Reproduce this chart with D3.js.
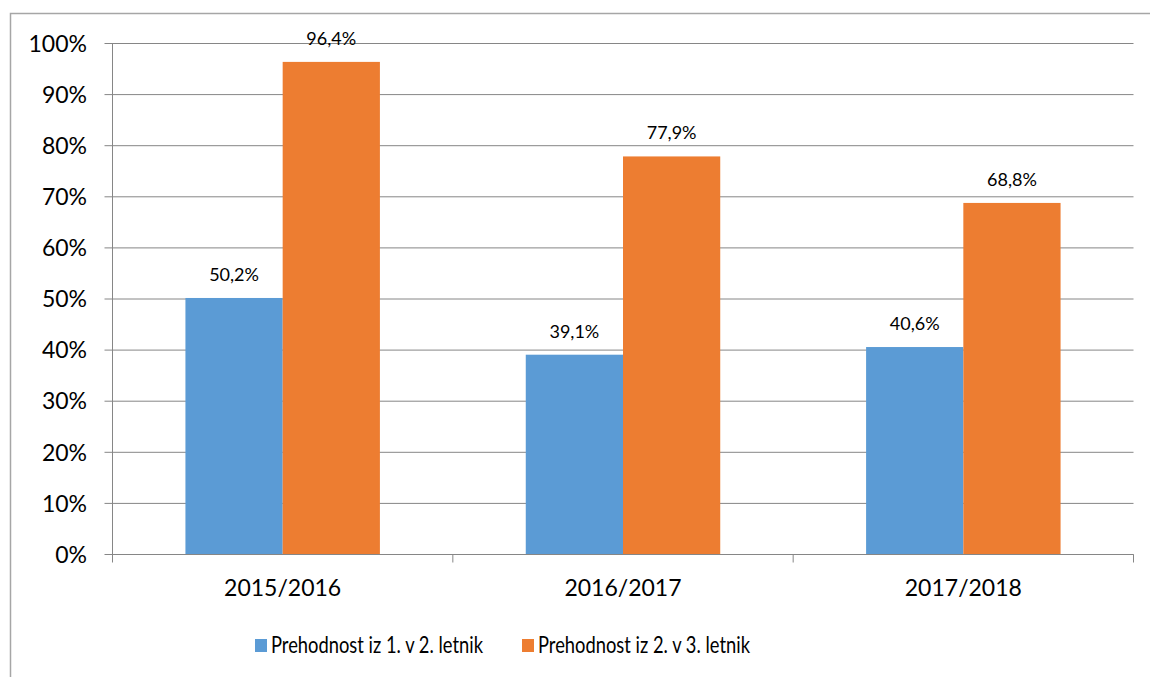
<!DOCTYPE html>
<html>
<head>
<meta charset="utf-8">
<title>prehodnost</title>
<style>
  body { margin: 0; background: #fff; }
  text { font-family: Lato, "Open Sans", sans-serif; fill: #000; }
</style>
</head>
<body>
<script src="https://cdn.jsdelivr.net/npm/d3@7"></script>
<script>

var years = ['2015/2016', '2016/2017', '2017/2018'],
    seriesNames = ['Prehodnost iz 1. v 2. letnik', 'Prehodnost iz 2. v 3. letnik'],
    first = [50.2, 39.1, 40.6],
    second = [96.4, 77.9, 68.8],
    yTicks = [0, 10, 20, 30, 40, 50, 60, 70, 80, 90, 100],
    colors = ['#5b9bd5', '#ed7d31']

var width = 1150,
    height = 677,
    plotLeft = 112.5,
    plotRight = 1133.5,
    plotTop = 43.5,
    plotBottom = 554.5

var svg = d3.select('body').append('svg')
    .attr('width', width)
    .attr('height', height)

// outer chart frame (runs off the right and bottom edge)
svg.append('rect')
    .attr('x', 10.5).attr('y', 13.5)
    .attr('width', 1200).attr('height', 700)
    .attr('fill', 'none')
    .attr('stroke', '#a6a6a6')
    .attr('stroke-width', 1.5)

var x = d3.scaleBand().domain(years).range([plotLeft, plotRight])
var x1 = d3.scaleBand().domain([0, 1]).range([0, x.bandwidth()]).paddingOuter(0.75).paddingInner(0)
var y = d3.scaleLinear().domain([0, 100]).range([plotBottom, plotTop])

// gridlines with left tick stubs
svg.append('g').selectAll('line').data(yTicks).enter().append('line')
    .attr('x1', plotLeft - 8).attr('x2', plotRight)
    .attr('y1', function(d){ return y(d) }).attr('y2', function(d){ return y(d) })
    .attr('stroke', '#868686').attr('stroke-width', 1)

svg.append('g').selectAll('text').data(yTicks).enter().append('text')
    .attr('x', 87).attr('y', function(d){ return y(d) })
    .attr('dy', '0.36em')
    .attr('text-anchor', 'end')
    .style('font-size', '23px')
    .text(function(d){ return d + '%' })

// bars
var rows = years.map(function(yr, i){ return [first[i], second[i]] })
var groups = svg.append('g').selectAll('g').data(rows).enter().append('g')
    .attr('transform', function(d, i){ return 'translate(' + x(years[i]) + ',0)' })

groups.selectAll('rect').data(function(d){ return d }).enter().append('rect')
    .attr('x', function(d, j){ return x1(j) })
    .attr('width', x1.bandwidth())
    .attr('y', function(d){ return y(d) })
    .attr('height', function(d){ return plotBottom - y(d) })
    .attr('fill', function(d, j){ return colors[j] })

groups.selectAll('text').data(function(d){ return d }).enter().append('text')
    .attr('x', function(d, j){ return x1(j) + x1.bandwidth() / 2 })
    .attr('y', function(d){ return y(d) - 17 })
    .attr('text-anchor', 'middle')
    .style('font-size', '18px')
    .text(function(d){ return d.toFixed(1).replace('.', ',') + '%' })

// axis lines and category ticks
svg.append('line')
    .attr('x1', plotLeft).attr('x2', plotLeft).attr('y1', plotTop).attr('y2', plotBottom + 8)
    .attr('stroke', '#868686')
svg.append('line')
    .attr('x1', plotLeft).attr('x2', plotRight).attr('y1', plotBottom).attr('y2', plotBottom)
    .attr('stroke', '#868686')
svg.append('g').selectAll('line').data(years).enter().append('line')
    .attr('x1', function(d){ return x(d) + x.bandwidth() })
    .attr('x2', function(d){ return x(d) + x.bandwidth() })
    .attr('y1', plotBottom).attr('y2', plotBottom + 8)
    .attr('stroke', '#868686')

svg.append('g').selectAll('text').data(years).enter().append('text')
    .attr('x', function(d){ return x(d) + x.bandwidth() / 2 })
    .attr('y', 588)
    .attr('dy', '0.36em')
    .attr('text-anchor', 'middle')
    .style('font-size', '23px')
    .text(function(d){ return d })

// legend
var legend = svg.append('g')
var lx = [255, 522]
seriesNames.forEach(function(name, i){
    legend.append('rect')
        .attr('x', lx[i]).attr('y', 639)
        .attr('width', 12).attr('height', 13)
        .attr('fill', colors[i])
    legend.append('text')
        .attr('x', lx[i] + 16).attr('y', 645)
        .attr('dy', '0.36em')
        .attr('textLength', 212)
        .attr('lengthAdjust', 'spacingAndGlyphs')
        .style('font-size', '23px')
        .text(name)
})

</script>
</body>
</html>
